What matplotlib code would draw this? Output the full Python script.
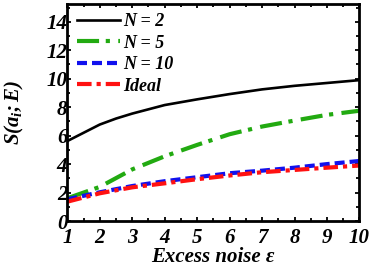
import matplotlib
matplotlib.use("Agg")
import matplotlib.pyplot as plt
from matplotlib.ticker import MultipleLocator

# excess noise (x) and S(a_i;E) for each case
noise_n2 = [1, 1.5, 2, 2.5, 3, 4, 5, 6, 7, 8, 9, 10]
s_n2 = [5.62, 6.2, 6.78, 7.2, 7.55, 8.15, 8.55, 8.92, 9.25, 9.5, 9.7, 9.9]
noise = [1, 2, 3, 4, 5, 6, 7, 8, 9, 10]
s_n5 = [1.6, 2.4, 3.63, 4.55, 5.35, 6.1, 6.64, 7.06, 7.46, 7.75]
s_n10 = [1.53, 2.02, 2.46, 2.8, 3.08, 3.36, 3.54, 3.75, 4.0, 4.22]
s_ideal = [1.36, 1.95, 2.37, 2.65, 2.94, 3.2, 3.43, 3.59, 3.75, 3.9]
labels = ["N = 2", "N = 5", "N = 10", "Ideal"]

plt.rcParams['font.family'] = ['Liberation Serif', 'DejaVu Serif']
plt.rcParams['font.weight'] = 'bold'
plt.rcParams['font.style'] = 'italic'
plt.rcParams['axes.labelweight'] = 'bold'
plt.rcParams['mathtext.fontset'] = 'custom'
plt.rcParams['mathtext.rm'] = 'Liberation Serif:bold:italic'
plt.rcParams['mathtext.it'] = 'Liberation Serif:bold:italic'
plt.rcParams['mathtext.bf'] = 'Liberation Serif:bold:italic'

fig = plt.figure(figsize=(3.74, 2.66), dpi=100)
ax = fig.add_axes([0.180, 0.169, 0.781, 0.816])

ax.plot(noise_n2, s_n2, color='black', lw=1.9, label=labels[0])
ax.plot(noise, s_n5, color='#22aa11', lw=3, dashes=(5.3, 1.6, 1, 2), label=labels[1])
ax.plot(noise, s_n10, color='#1111ee', lw=3, dashes=(2.4, 1.2), label=labels[2])
ax.plot(noise, s_ideal, color='#ff1111', lw=3, dashes=(3.5, 1.2, 1, 1.2), label=labels[3])

ax.set_xlim(1, 10)
ax.set_ylim(0, 15.25)
ax.xaxis.set_major_locator(MultipleLocator(1))
ax.xaxis.set_minor_locator(MultipleLocator(0.5))
ax.yaxis.set_major_locator(MultipleLocator(2))
ax.yaxis.set_minor_locator(MultipleLocator(1))
ax.tick_params(which='both', direction='in', top=True, right=True, width=1.3, labelsize=15)
ax.tick_params(which='major', length=3)
ax.tick_params(which='minor', length=2)
ax.tick_params(axis='y', pad=0)
ax.tick_params(axis='x', pad=5)
for sp in ax.spines.values():
    sp.set_linewidth(2)

ax.set_xlabel("Excess noise ε", fontsize=15, labelpad=-1)
ax.set_ylabel("$S(a_i;E)$", fontsize=15)
ax.yaxis.set_label_coords(-0.14, 0.5)

ax.legend(loc='upper left', bbox_to_anchor=(0.02, 0.975), frameon=False, fontsize=13,
          handlelength=2.4, handletextpad=0.15, labelspacing=0.25, borderpad=0.2,
          borderaxespad=0)

fig.savefig("out.png", dpi=100)
